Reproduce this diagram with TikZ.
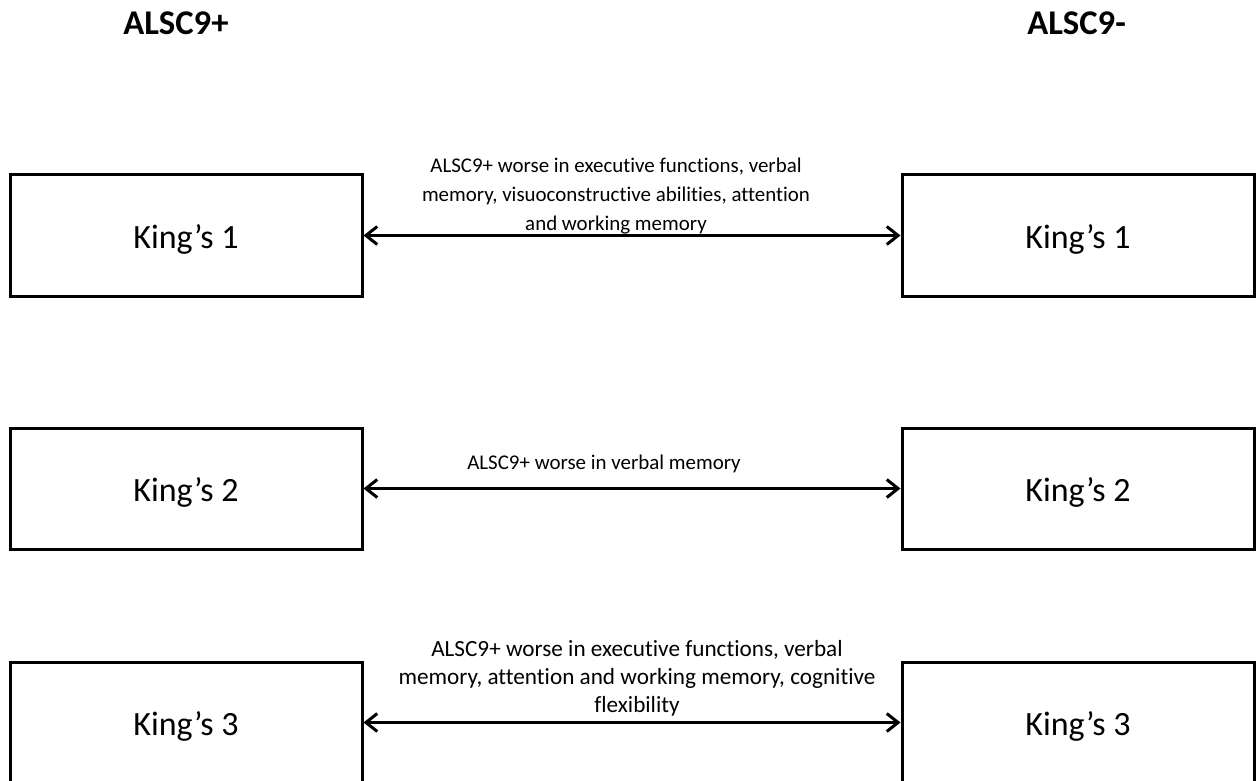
\documentclass[tikz,border=0pt]{standalone}
\usepackage{fontspec}
\setmainfont[Ligatures=NoCommon]{Carlito}
\usetikzlibrary{arrows.meta}
\tikzset{
  kbox/.style={draw, line width=2.25pt, minimum width=264pt, minimum height=90.75pt,
    inner sep=0pt, font=\fontsize{25.5}{30}\selectfont, text height=19.5pt, text depth=0.75pt},
  link/.style={line width=2.25pt, {Straight Barb[length=8.5pt,width=13.5pt]}-{Straight Barb[length=8.5pt,width=13.5pt]}},
  lbl/.style={align=center, inner sep=0pt, font=\fontsize{15.7}{21.75}\selectfont},
  lblbig/.style={align=center, inner sep=0pt, font=\fontsize{17.4}{20.9}\selectfont},
  hdr/.style={inner sep=0pt, anchor=base west, font=\fontsize{26}{30}\selectfont\bfseries}
}
\begin{document}
\begin{tikzpicture}[x=0.75pt,y=-0.75pt]
\clip (0,0) rectangle (1257,781);
\fill[white] (0,0) rectangle (1257,781);
\node[hdr] (hp) at (123,35) {ALSC9+};
\node[hdr] (hm) at (1027,35) {ALSC9-};

\node[kbox] (L1) at (186,235.5) {King’s 1};
\node[kbox] (R1) at (1078,235.5) {King’s 1};
\node[kbox] (L2) at (186,488.5) {King’s 2};
\node[kbox] (R2) at (1078,488.5) {King’s 2};
\node[kbox] (L3) at (186,722.5) {King’s 3};
\node[kbox] (R3) at (1078,722.5) {King’s 3};

\draw[link] (L1.east) -- (R1.west);
\draw[link] (L2.east) -- (R2.west);
\draw[link] (L3.east) -- (R3.west);

\node[lbl] (t1) at (616,196) {ALSC9+ worse in executive functions, verbal\\memory, visuoconstructive abilities, attention\\and working memory};
\node[lbl, anchor=base] (t2) at (604,469) {ALSC9+ worse in verbal memory};
\node[lblbig] (t3) at (637,678) {ALSC9+ worse in executive functions, verbal\\memory, attention and working memory, cognitive\\flexibility};
\end{tikzpicture}
\end{document}
